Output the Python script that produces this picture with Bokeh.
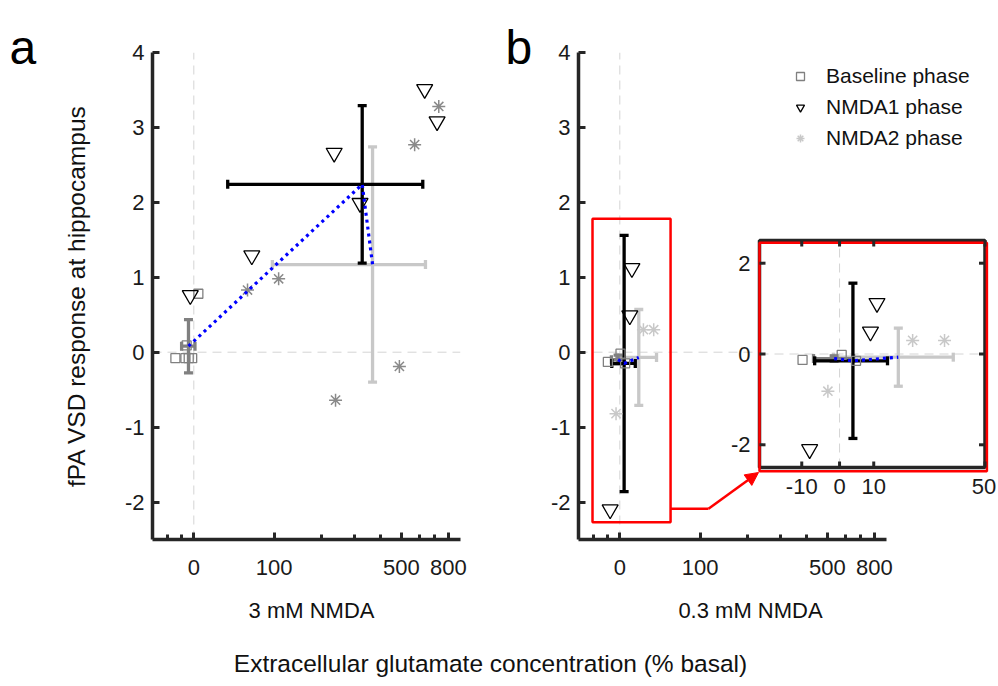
import numpy as np
from bokeh.plotting import figure
from bokeh.layouts import row, column
from bokeh.models import (Range1d, FixedTicker, CustomJSTickFormatter, Label,
                          Legend, LegendItem, Arrow, NormalHead)
from bokeh.core.properties import value
from bokeh.embed import file_html
from bokeh.resources import INLINE

# ---------------- data (x in % basal, y in fPA VSD response) ----------------
# Panel a : 3 mM NMDA
a_base_x = [4, -6, -14.7, -7, -4.3, -1.4]
a_base_y = [0.78, 0.09, -0.08, -0.08, -0.08, -0.08]
a_n1_x = [634, 717, 236, 320, 65, -3]
a_n1_y = [3.51, 3.08, 2.66, 1.99, 1.29, 0.76]
a_n2_x = [729, 573, 108, 59, 240, 490]
a_n2_y = [3.28, 2.77, 0.98, 0.83, -0.64, -0.19]
# means and SDs: baseline, NMDA1, NMDA2
a_mean_x = [-4.5, 328, 368]
a_mean_y = [0.08, 2.24, 1.17]
a_sd_x = [5.5, 294, 271]
a_sd_y = [0.355, 1.05, 1.57]

# Panel b : 0.3 mM NMDA
b_base_x = [-9.8, 0.6, 4.7]
b_base_y = [-0.13, -0.02, -0.15]
b_n1_x = [11, 9, -8]
b_n1_y = [1.12, 0.49, -2.1]
b_n2_x = [22.6, 34, -3.2]
b_n2_y = [0.30, 0.30, -0.82]
b_mean_x = [-1.5, 3.8, 17.8]
b_mean_y = [-0.1, -0.15, -0.07]
b_sd_x = [5.5, 10.5, 19.5]
b_sd_y = [0.06, 1.71, 0.64]

# axis ticks / limits
main_ticks = [0, 100, 500, 800]
main_minor = [-20, -10, 200, 300, 400, 600, 700]
y_ticks = [-2, -1, 0, 1, 2, 3, 4]
x_limits = [-30, 900]
y_limits = [-2.5, 4]
inset_xlimits = [-20, 50]
inset_ylimits = [-2.5, 2.5]
inset_xticks = [-10, 0, 10, 50]
inset_yticks = [-2, 0, 2]
zoom_box_x = [-21, 55]
zoom_box_y = [-2.27, 1.78]

labels = ["Baseline phase", "NMDA1 phase", "NMDA2 phase"]


def T(v):
    """axis transform used by the original figure: log10(x + 100)"""
    return np.log10(np.asarray(v, dtype=float) + 100.0) - 2.0


FONT = "Liberation Sans"
AX = "#262626"
GRAY = "#808080"
LGRAY = "#c8c8c8"
DASHC = "#d4d4d4"
BLUE = "#0000ff"
TXT = "#111111"

X0, X1 = float(T(x_limits[0])), float(T(x_limits[1]))
FRAME_W_A = 308
SX = FRAME_W_A / (X1 - X0)           # px per transformed unit
FRAME_H = 487
SY = FRAME_H / (y_limits[1] - y_limits[0])
ROW_H = 585
TOP = 52
BOT = ROW_H - TOP - FRAME_H


def style_axes(p, ylabel=None):
    p.xaxis.ticker = FixedTicker(ticks=list(T(main_ticks)), minor_ticks=list(T(main_minor)))
    p.xaxis.formatter = CustomJSTickFormatter(
        code="return String(Math.round(Math.pow(10, tick + 2) - 100));")
    p.yaxis.ticker = FixedTicker(ticks=y_ticks)
    p.yaxis.formatter = CustomJSTickFormatter(code="return String(tick);")
    p.xaxis.bounds = (X0, X1)
    p.yaxis.bounds = (y_limits[0], y_limits[1])
    for ax in (p.xaxis[0], p.yaxis[0]):
        ax.axis_line_width = 3.5
        ax.axis_line_color = AX
        ax.major_tick_in = 7
        ax.major_tick_out = 0
        ax.major_tick_line_width = 3
        ax.major_tick_line_color = AX
        ax.minor_tick_in = 5
        ax.minor_tick_out = 0
        ax.minor_tick_line_width = 3
        ax.minor_tick_line_color = AX
        ax.major_label_text_font = FONT
        ax.major_label_text_font_size = "22px"
        ax.major_label_text_color = "#1a1a1a"
    p.xaxis.major_label_standoff = 20
    p.yaxis.major_label_standoff = 8
    p.yaxis.minor_tick_line_color = None
    if ylabel:
        p.yaxis.axis_label = ylabel
        p.yaxis.axis_label_text_font = FONT
        p.yaxis.axis_label_text_font_size = "24.5px"
        p.yaxis.axis_label_text_font_style = "normal"
        p.yaxis.axis_label_text_color = TXT
        p.yaxis.axis_label_standoff = 32
    p.grid.visible = False
    p.outline_line_color = None
    p.background_fill_color = "white"


def errbars(g, mx, my, sx, sy, color, lw=3.3, cap=9):
    X = float(T(mx))
    xl, xr = float(T(mx - sx)), float(T(mx + sx))
    g.segment(x0=[xl], y0=[my], x1=[xr], y1=[my], line_color=color, line_width=lw)
    g.segment(x0=[X], y0=[my - sy], x1=[X], y1=[my + sy], line_color=color, line_width=lw)
    g.scatter(x=[xl, xr], y=[my, my], marker="dash", angle=np.pi / 2, size=cap,
              line_color=color, line_width=lw)
    g.scatter(x=[X, X], y=[my - sy, my + sy], marker="dash", size=cap,
              line_color=color, line_width=lw)


def draw_panel(g, bx, by, n1x, n1y, n2x, n2y, mx, my, sx, sy, star_color, xlim, ylim):
    # dashed zero lines
    g.line(x=[float(T(xlim[0])), float(T(xlim[1]))], y=[0, 0], line_color=DASHC,
           line_width=1, line_dash="9 6")
    g.line(x=[float(T(0)), float(T(0))], y=[ylim[0], ylim[1]], line_color=DASHC,
           line_width=1, line_dash="9 6")
    errbars(g, mx[2], my[2], sx[2], sy[2], LGRAY)
    errbars(g, mx[0], my[0], sx[0], sy[0], GRAY)
    errbars(g, mx[1], my[1], sx[1], sy[1], "black")
    r_sq = g.scatter(x=T(bx), y=by, marker="square", size=9, line_color=GRAY,
                     fill_alpha=0, line_width=1.3)
    r_tri = g.scatter(x=T(n1x), y=n1y, marker="inverted_triangle", size=16,
                      line_color="black", fill_alpha=0, line_width=1.3)
    r_st = g.scatter(x=T(n2x), y=n2y, marker="asterisk", size=13, line_color=star_color,
                     line_width=1.5)
    g.line(x=T(mx), y=my, line_color=BLUE, line_width=3.2, line_dash="3 4")
    return r_sq, r_tri, r_st


def strip(w, h):
    s = figure(width=w, height=h, x_range=Range1d(0, w), y_range=Range1d(0, h),
               toolbar_location=None, output_backend="svg", min_border=0,
               x_axis_location=None, y_axis_location=None)
    s.frame_align = False
    s.grid.visible = False
    s.outline_line_color = None
    return s


# ---------------- strip with panel letter a ----------------
SA_W = 45
sa = strip(SA_W, ROW_H)
sa.add_layout(Label(x=9, y=ROW_H - 47, text="a", text_font=FONT, text_font_size="48px",
                    text_align="left", text_baseline="alphabetic", text_color="black"))

# ---------------- panel a ----------------
PA_W = 500 - SA_W
pa = figure(width=PA_W, height=ROW_H, x_range=Range1d(X0, X1),
            y_range=Range1d(y_limits[0], y_limits[1]),
            toolbar_location=None, output_backend="svg",
            min_border_left=152 - SA_W, min_border_right=PA_W - (152 - SA_W) - FRAME_W_A,
            min_border_top=TOP, min_border_bottom=BOT)
style_axes(pa, "fPA VSD response at hippocampus")
draw_panel(pa, a_base_x, a_base_y, a_n1_x, a_n1_y, a_n2_x, a_n2_y,
           a_mean_x, a_mean_y, a_sd_x, a_sd_y, "#8a8a8a", x_limits, y_limits)

# ---------------- strip with panel letter b ----------------
SB_W = 40
sb = strip(SB_W, ROW_H)
sb.add_layout(Label(x=5, y=ROW_H - 47, text="b", text_font=FONT, text_font_size="48px",
                    text_align="left", text_baseline="alphabetic", text_color="black"))

# ---------------- panel b ----------------
PB_W = 996 - 500 - SB_W
PB_LEFT = 578 - 540
xb_end = X0 + (PB_W - PB_LEFT) / SX
pb = figure(width=PB_W, height=ROW_H, x_range=Range1d(X0, xb_end),
            y_range=Range1d(y_limits[0], y_limits[1]),
            toolbar_location=None, output_backend="svg",
            min_border_left=PB_LEFT, min_border_right=0, min_border_top=TOP,
            min_border_bottom=BOT)
style_axes(pb)
rb_sq, rb_tri, rb_st = draw_panel(pb, b_base_x, b_base_y, b_n1_x, b_n1_y, b_n2_x, b_n2_y,
                                  b_mean_x, b_mean_y, b_sd_x, b_sd_y, LGRAY,
                                  x_limits, y_limits)


def pb_x(px):
    return X0 + (px - 578) / SX


def ax_y(py):
    return y_limits[1] - (py - TOP) / SY


# red zoom rectangle and arrow
pb.quad(left=[float(T(zoom_box_x[0]))], right=[float(T(zoom_box_x[1]))],
        bottom=[zoom_box_y[0]], top=[zoom_box_y[1]], fill_alpha=0,
        line_color="#ff0000", line_width=2.5)
ay = ax_y(508.3)
pb.line(x=[float(T(zoom_box_x[1])), pb_x(708)], y=[ay, ay], line_color="#ff0000",
        line_width=2.5)
pb.add_layout(Arrow(x_start=pb_x(708), y_start=ay, x_end=pb_x(758), y_end=ax_y(472),
                    line_color="#ff0000", line_width=2.5,
                    end=NormalHead(size=13, fill_color="#ff0000", line_color="#ff0000")))

# ---------------- inset (zoom of the red rectangle) ----------------
ins = pb.subplot(
    x_source=Range1d(float(T(inset_xlimits[0])), float(T(inset_xlimits[1]))),
    y_source=Range1d(inset_ylimits[0], inset_ylimits[1]),
    x_target=Range1d(pb_x(759), pb_x(984.5)),
    y_target=Range1d(ax_y(467), ax_y(240)),
)
IL, IR = float(T(inset_xlimits[0])), float(T(inset_xlimits[1]))
IB, IT = inset_ylimits
ins.quad(left=[IL], right=[IR], bottom=[IB], top=[IT], fill_color="white", line_color=None)
draw_panel(ins, b_base_x, b_base_y, b_n1_x, b_n1_y, b_n2_x, b_n2_y,
           b_mean_x, b_mean_y, b_sd_x, b_sd_y, LGRAY, inset_xlimits, inset_ylimits)
ins.quad(left=[IL], right=[IR], bottom=[IB], top=[IT], fill_alpha=0, line_color=AX,
         line_width=3.5)
ins.quad(left=[IL], right=[float(T(50.8))], bottom=[-2.58], top=[2.45], fill_alpha=0,
         line_color="#ff0000", line_width=2.5)
xt = list(T(inset_xticks))
ins.ray(x=xt, y=[IB] * len(xt), length=6, length_units="screen", angle=np.pi / 2,
        line_color=AX, line_width=3)
ins.ray(x=xt, y=[IT] * len(xt), length=6, length_units="screen", angle=-np.pi / 2,
        line_color=AX, line_width=3)
ins.ray(x=[IL] * 3, y=inset_yticks, length=6, length_units="screen", angle=0,
        line_color=AX, line_width=3)
ins.ray(x=[IR] * 3, y=inset_yticks, length=6, length_units="screen", angle=np.pi,
        line_color=AX, line_width=3)
ins.text(x=xt, y=[IB] * len(xt), text=[str(v) for v in inset_xticks],
         x_offset=[0, 0, 0, -1], y_offset=11,
         text_align="center", text_baseline="top", text_font=value(FONT),
         text_font_size="22px", text_color="#1a1a1a")
ins.text(x=[IL] * 3, y=inset_yticks, text=[str(v) for v in inset_yticks], x_offset=-9,
         text_align="right", text_baseline="middle", text_font=value(FONT),
         text_font_size="22px", text_color="#1a1a1a")

legend = Legend(items=[LegendItem(label=labels[0], renderers=[rb_sq]),
                       LegendItem(label=labels[1], renderers=[rb_tri]),
                       LegendItem(label=labels[2], renderers=[rb_st])],
                location=(212, 389), glyph_width=20, glyph_height=22, label_height=22,
                spacing=7, padding=10, label_standoff=16,
                label_text_font=FONT, label_text_font_size="21px",
                label_text_color=TXT,
                border_line_color=None, background_fill_alpha=0)
pb.add_layout(legend)

# ---------------- bottom strip with x labels ----------------
BOT_H = 684 - ROW_H
sc = strip(996, BOT_H)
sc.add_layout(Label(x=311, y=BOT_H - (610 - ROW_H), text="3 mM NMDA", text_font=FONT,
                    text_font_size="22px", text_align="center", text_baseline="middle",
                    text_color=TXT))
sc.add_layout(Label(x=750, y=BOT_H - (610 - ROW_H), text="0.3 mM NMDA", text_font=FONT,
                    text_font_size="22px", text_align="center", text_baseline="middle",
                    text_color=TXT))
sc.add_layout(Label(x=490, y=BOT_H - (663 - ROW_H),
                    text="Extracellular glutamate concentration (% basal)",
                    text_font=FONT, text_font_size="24.5px", text_align="center",
                    text_baseline="middle", text_color=TXT))

layout = column(row(sa, pa, sb, pb), sc)
open("out.html", "w").write(file_html(layout, INLINE))
